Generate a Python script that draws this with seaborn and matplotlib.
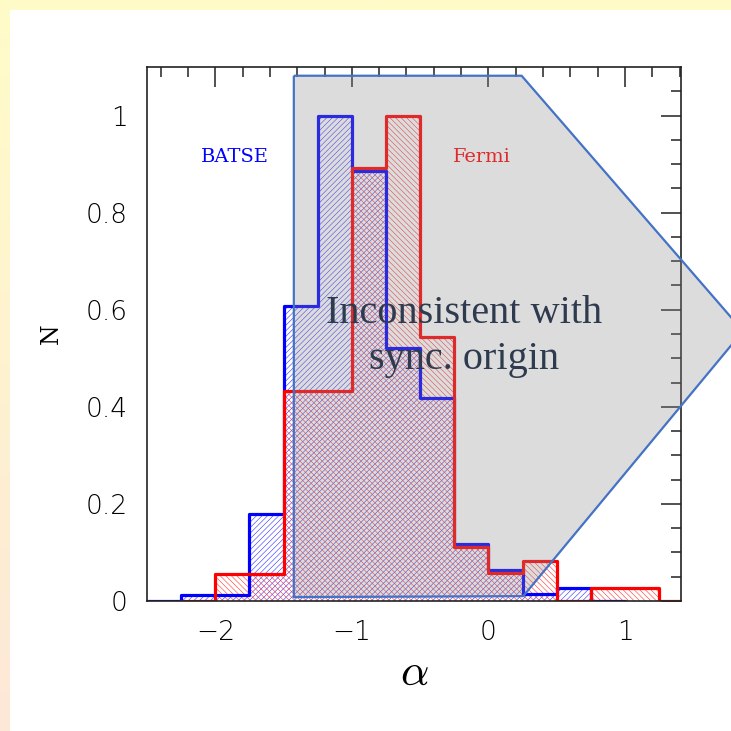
import numpy as np
import pandas as pd
import matplotlib
matplotlib.use("Agg")
import matplotlib.pyplot as plt
import seaborn as sns
from matplotlib.patches import Rectangle, Polygon

# ---------------- data ----------------
bin_width = 0.25
batse_range = (-2.5, 1.0)
batse_vals = [0.0, 0.013, 0.013, 0.179, 0.607, 1.0, 0.886, 0.522, 0.419,
              0.117, 0.064, 0.014, 0.026, 0.0]
fermi_range = (-2.25, 1.5)
fermi_vals = [0.0, 0.055, 0.055, 0.433, 0.433, 0.892, 1.0, 0.544, 0.112,
              0.057, 0.082, 0.0, 0.026, 0.026, 0.0]

# "inconsistent with synchrotron" region (alpha, N) vertices
region_x = [-1.425, 0.243, 1.864, 0.255, -1.425]
region_y = [1.082, 1.082, 0.556, 0.010, 0.008]

xticks = [-2, -1, 0, 1]
xtick_labels = ["\u22122", "\u22121", "0", "1"]
yticks = [0, 0.2, 0.4, 0.6, 0.8, 1.0]
ytick_labels = ["0", "0.2", "0.4", "0.6", "0.8", "1"]

BLUE = "#0000ff"
RED = "#ff0000"

sns.set_theme(style="white")
plt.rcParams["font.family"] = ["DejaVu Sans"]
plt.rcParams["mathtext.fontset"] = "cm"
plt.rcParams["hatch.linewidth"] = 0.4

fig = plt.figure(figsize=(7.31, 7.31), dpi=100)

# background: yellow/peach gradient frame with white panel
bg = fig.add_axes([0, 0, 1, 1], zorder=-10)
grad = np.linspace(0, 1, 256)[:, None]
c_top = np.array([255, 252, 200]) / 255
c_bot = np.array([253, 232, 216]) / 255
img = c_top[None, None, :] * (1 - grad[:, :, None]) + c_bot[None, None, :] * grad[:, :, None]
bg.imshow(img, aspect="auto", extent=[0, 1, 0, 1])
bg.add_patch(Rectangle((10 / 731, 0), 1, 1 - 10 / 731, facecolor="white",
                       edgecolor="none", transform=bg.transAxes))
bg.set_xlim(0, 1)
bg.set_ylim(0, 1)
bg.axis("off")

ax = fig.add_axes([147 / 731, 1 - 601 / 731, (681 - 147) / 731, (601 - 67) / 731])
ax.set_facecolor("none")


def centers(rng, n):
    e = np.linspace(rng[0], rng[1], n + 1)
    return (e[:-1] + e[1:]) / 2


df_b = pd.DataFrame({"alpha": centers(batse_range, len(batse_vals)), "N": batse_vals})
df_f = pd.DataFrame({"alpha": centers(fermi_range, len(fermi_vals)), "N": fermi_vals})


def hatched(df, rng, color, hatch):
    n0 = len(ax.patches)
    sns.histplot(data=df, x="alpha", weights="N", bins=len(df), binrange=rng,
                 element="bars", fill=True, color=color, linewidth=0, ax=ax)
    for p in ax.patches[n0:]:
        p.set_facecolor("none")
        p.set_edgecolor(color)
        p.set_linewidth(0)
        p.set_hatch(hatch)
        p.set_zorder(1)


hatched(df_b, batse_range, "#3030ff", "/" * 6)
hatched(df_f, fermi_range, "#ff3030", "\\" * 6)

sns.histplot(data=df_b, x="alpha", weights="N", bins=len(df_b), binrange=batse_range,
             element="step", fill=False, color=BLUE, linewidth=2.3, ax=ax, zorder=2)
sns.histplot(data=df_f, x="alpha", weights="N", bins=len(df_f), binrange=fermi_range,
             element="step", fill=False, color=RED, linewidth=2.3, ax=ax, zorder=2)

# labels for data sets
ax.text(-1.86, 0.915, "BATSE", color=BLUE, fontsize=14, family="DejaVu Serif",
        ha="center", va="center", zorder=2)
ax.text(-0.05, 0.915, "Fermi", color=RED, fontsize=14, family="DejaVu Serif",
        ha="center", va="center", zorder=2)

# overlay region
verts = np.column_stack([region_x, region_y])
ax.add_patch(Polygon(verts, closed=True, facecolor="#908c8f", alpha=0.3,
                     edgecolor="none", zorder=3, clip_on=False))
ax.add_patch(Polygon(verts, closed=True, facecolor="none", edgecolor="#4472c4",
                     linewidth=1.6, zorder=4, clip_on=False))
ax.text(-0.18, 0.545, "Inconsistent with\nsync. origin", color="#2e3b4e",
        fontsize=29, family="Liberation Serif", ha="center", va="center",
        linespacing=1.3, zorder=5)

ax.set_xlim(-2.5, 1.41)
ax.set_ylim(0, 1.1)
ax.set_xticks(xticks)
ax.set_xticklabels(xtick_labels)
ax.set_yticks(yticks)
ax.set_yticklabels(ytick_labels)
ax.set_xticks(np.arange(-2.4, 1.41, 0.2), minor=True)
ax.set_yticks(np.arange(0, 1.1, 0.05), minor=True)
ax.tick_params(which="both", direction="in", top=True, right=True,
               color="#222222", width=1.1)
ax.tick_params(which="major", length=14.5, labelsize=19, pad=14,
               labelcolor="black")
ax.tick_params(which="minor", length=7.2)
for lab in ax.get_xticklabels() + ax.get_yticklabels():
    lab.set_fontweight("light")
for s in ax.spines.values():
    s.set_color("#222222")
    s.set_linewidth(1.2)

ax.set_xlabel(r"$\alpha$", fontsize=32, labelpad=4, color="black")
ax.set_ylabel("N", fontsize=17, labelpad=16, color="black", family="DejaVu Serif")

fig.savefig("out.png", dpi=100)
